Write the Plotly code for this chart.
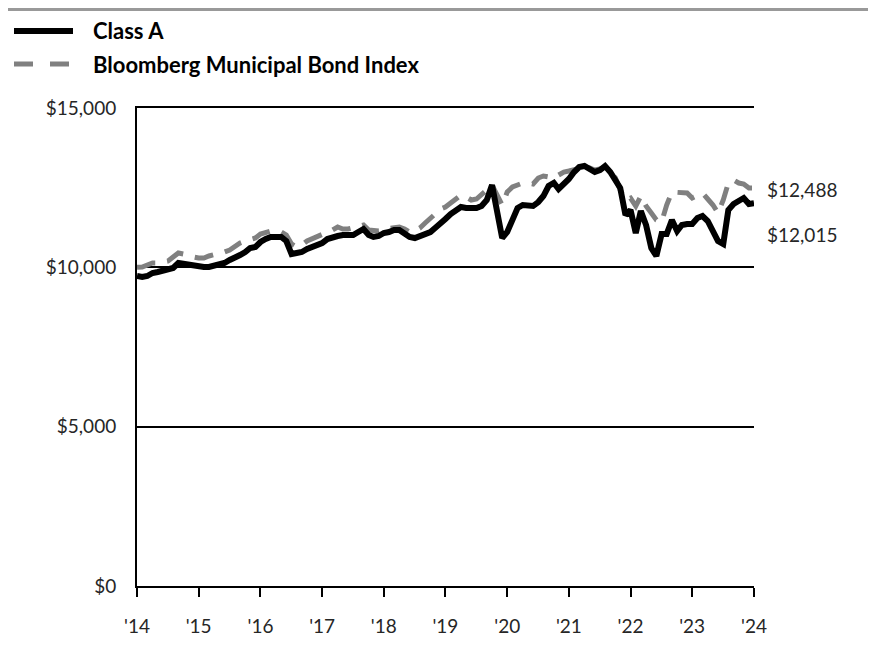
import pandas as pd
import plotly.graph_objects as go

# Monthly values, Apr 2014 - Apr 2024
dates = pd.date_range("2014-04-30", periods=121, freq="ME")

class_a = [
    9728, 9696, 9728, 9822, 9853, 9885, 9916, 9979, 10136, 10104, 10073, 10073,
    10042, 10010, 10010, 10042, 10104, 10136, 10230, 10293, 10387, 10481, 10606, 10638,
    10795, 10889, 10952, 10952, 10952, 10826, 10418, 10450, 10481, 10575, 10638, 10701,
    10763, 10889, 10952, 10983, 11014, 11014, 11014, 11108, 11203, 11014, 10952, 10983,
    11077, 11108, 11171, 11171, 11077, 10952, 10920, 10983, 11046, 11108, 11234, 11360,
    11516, 11673, 11768, 11893, 11862, 11862, 11862, 11924, 12113, 12583, 11799, 10920,
    11108, 11485, 11862, 11956, 11956, 11924, 12050, 12238, 12552, 12646, 12458, 12615,
    12772, 12991, 13148, 13179, 13085, 12991, 13054, 13179, 12991, 12740, 12489, 11642,
    11799, 11077, 11768, 11328, 10606, 10355, 11046, 11046, 11485, 11140, 11328, 11360,
    11360, 11548, 11611, 11454, 11077, 10826, 10732, 11799, 11987, 12081, 12175, 11987,
    12015,
]

muni_index = [
    10000, 10010, 10073, 10136, 10136, 10167, 10199, 10324, 10450, 10418, 10356, 10324,
    10293, 10293, 10356, 10387, 10450, 10481, 10544, 10669, 10763, 10826, 10858, 10920,
    11046, 11108, 11140, 11140, 11108, 11014, 10732, 10638, 10701, 10826, 10889, 10952,
    11014, 11077, 11171, 11265, 11203, 11203, 11234, 11265, 11328, 11171, 11140, 11140,
    11203, 11234, 11265, 11265, 11203, 11108, 11140, 11234, 11391, 11516, 11673, 11830,
    11893, 12018, 12144, 12269, 12207, 12113, 12144, 12269, 12426, 12583, 12269, 11956,
    12364, 12521, 12583, 12646, 12646, 12615, 12803, 12866, 12835, 12803, 12897, 12991,
    13023, 13054, 13117, 13148, 13117, 13054, 13085, 13148, 12991, 12803, 12427, 12113,
    12175, 11924, 12238, 11924, 11705, 11485, 11422, 11956, 12364, 12364, 12332, 12332,
    12175, 12269, 12332, 12144, 11956, 11705, 12113, 12646, 12740, 12646, 12615, 12489,
    12488,
]

series_names = ["Class A", "Bloomberg Municipal Bond Index"]
end_labels = ["$12,015", "$12,488"]

year_ticks = pd.date_range("2014-04-30", periods=11, freq="12ME")
year_labels = ["'14", "'15", "'16", "'17", "'18", "'19", "'20", "'21", "'22", "'23", "'24"]
y_ticks = [0, 5000, 10000, 15000]
y_labels = ["$0", "$5,000", "$10,000", "$15,000"]

FONT = "Lato, 'Open Sans', sans-serif"
GRAY = "#808080"
TXT = "#262626"

fig = go.Figure()
fig.add_trace(go.Scatter(x=dates, y=muni_index, mode="lines", name=series_names[1],
                         line=dict(color=GRAY, width=5, dash="19px,12px"),
                         showlegend=False))
fig.add_trace(go.Scatter(x=dates, y=class_a, mode="lines", name=series_names[0],
                         line=dict(color="black", width=6),
                         showlegend=False))

# End-value labels
fig.add_annotation(x=dates[-1], y=muni_index[-1], text=end_labels[1], showarrow=False,
                   xanchor="left", yanchor="middle", xshift=11, yshift=-1,
                   font=dict(family=FONT, size=19, color=TXT))
fig.add_annotation(x=dates[-1], y=class_a[-1], text=end_labels[0], showarrow=False,
                   xanchor="left", yanchor="middle", xshift=11, yshift=-31,
                   font=dict(family=FONT, size=19, color=TXT))

# Top rule
fig.add_shape(type="line", xref="paper", yref="paper", x0=-0.25, x1=1.25,
              y0=1 + 99 / 478, y1=1 + 99 / 478, line=dict(color="#999999", width=4))

# Custom legend
legend_y = [1 + 77 / 478, 1 + 44 / 478]
fig.add_shape(type="line", xref="paper", yref="paper", x0=-123 / 617, x1=-64 / 617,
              y0=legend_y[0], y1=legend_y[0], line=dict(color="black", width=6))
fig.add_shape(type="line", xref="paper", yref="paper", x0=-123 / 617, x1=-64 / 617,
              y0=legend_y[1], y1=legend_y[1], line=dict(color=GRAY, width=5, dash="19px,17px"))
for name, ly in zip(series_names, legend_y):
    fig.add_annotation(xref="paper", yref="paper", x=-46 / 617, y=ly, text="<b>" + name + "</b>",
                       showarrow=False, xanchor="left", yanchor="middle",
                       font=dict(family=FONT, size=22, color="black"))

# The page body has an 8px margin, so the figure is sized/offset to compensate.
fig.update_layout(
    width=868, height=664,
    margin=dict(l=129, r=122, t=100, b=86),
    paper_bgcolor="white", plot_bgcolor="white",
    font=dict(family=FONT, size=19, color=TXT),
    showlegend=False,
)
fig.update_xaxes(
    range=[dates[0], dates[-1]],
    tickvals=year_ticks, ticktext=year_labels,
    ticks="outside", ticklen=9, tickwidth=2, tickcolor="black",
    showline=True, linecolor="black", linewidth=2, mirror=True,
    showgrid=False, zeroline=False, ticklabelstandoff=13,
)
fig.update_yaxes(
    range=[0, 15000], tickvals=y_ticks, ticktext=y_labels,
    showgrid=True, gridcolor="black", gridwidth=2,
    showline=True, linecolor="black", linewidth=2,
    zeroline=False, ticks="", ticklabelstandoff=15,
)

fig.write_html("out.html")
